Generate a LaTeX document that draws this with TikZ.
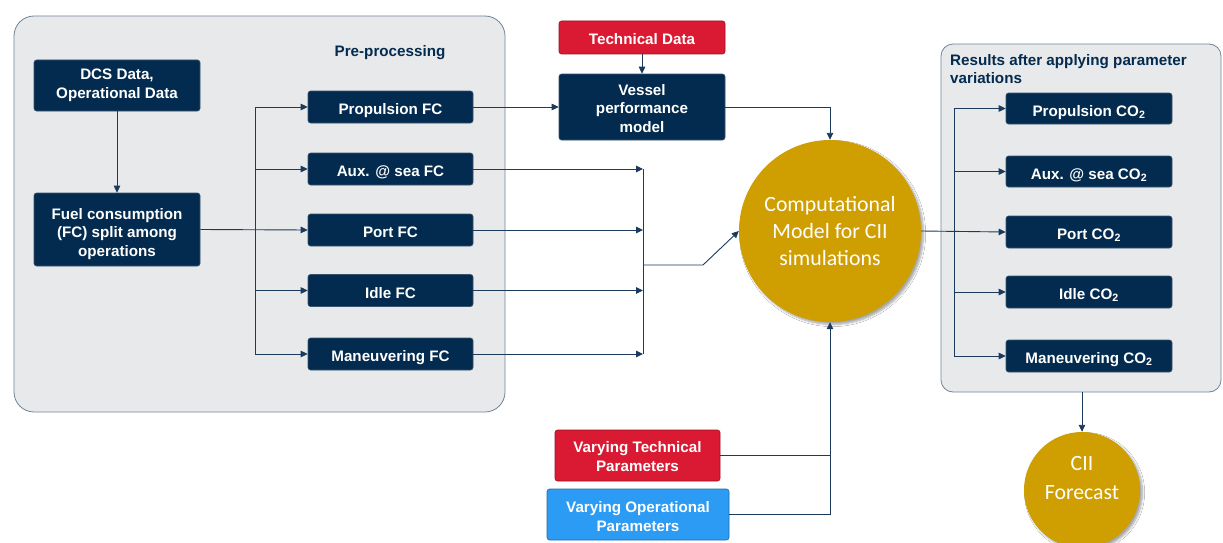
\documentclass[tikz,border=0pt]{standalone}
\usepackage{fontspec}
\setmainfont{Liberation Sans}
\newfontfamily\calib{Carlito}
\usetikzlibrary{arrows.meta,shadows.blur,calc}
\definecolor{navy}{HTML}{032B4F}
\definecolor{boxedge}{HTML}{3A5470}
\definecolor{linec}{HTML}{1B3A5C}
\definecolor{redbox}{HTML}{DA1A32}
\definecolor{bluebox}{HTML}{2B9BF4}
\definecolor{gold}{HTML}{CF9E00}
\definecolor{panel}{HTML}{E8E9EA}
\definecolor{paneledge}{HTML}{71839A}
\begin{document}
\begin{tikzpicture}[x=1pt,y=-1pt,
  box/.style={draw=boxedge,fill=navy,rounded corners=2.5pt,text=white,
    font=\bfseries\fontsize{15.2}{18.6}\selectfont,align=center,inner sep=2pt,line width=0.6pt},
  one/.style={text height=15pt,text depth=0pt},
  redb/.style={box,fill=redbox,draw=redbox!70!black},
  blueb/.style={box,fill=bluebox,draw=bluebox!70!black},
  panelbox/.style={draw=paneledge,fill=panel,rounded corners=20pt,line width=0.8pt},
  gcirc/.style={circle,fill=gold,inner sep=0pt,text=white,align=center,
    font=\calib\fontsize{21.8}{27}\selectfont,
    blur shadow={shadow blur steps=6,shadow xshift=2.5pt,shadow yshift=-2.5pt,shadow opacity=35}},
  ctext/.style={text=white,align=center,font=\calib\fontsize{21.8}{29}\selectfont,inner sep=0pt},
  title/.style={text=navy,font=\bfseries\fontsize{15.2}{18.5}\selectfont},
  ln/.style={draw=linec,line width=0.9pt},
  arr/.style={ln,-{Triangle[length=7pt,width=6.5pt]}}
]
\useasboundingbox (0,0) rectangle (1223,543);
\clip (0,0) rectangle (1223,543);
\fill[white] (0,0) rectangle (1223,543);

% panels
\node[panelbox,minimum width=491pt,minimum height=396pt] (pre) at (259.5,214) {};
\node[title] (pretitle) at (390,52.5) {Pre-processing};
\node[panelbox,rounded corners=12pt,minimum width=280pt,minimum height=348pt] (res) at (1081,218) {};
\node[title,anchor=north west,align=left,inner sep=0pt] (restitle) at (950,54) {Results after applying parameter\\variations};

% left boxes
\node[box,minimum width=166pt,minimum height=51pt] (dcs) at (117,85.5) {DCS Data,\\Operational Data};
\node[box,minimum width=166pt,minimum height=73pt,text height=53.7pt,text depth=0pt] (fuel) at (117,229.5) {Fuel consumption\\(FC) split among\\operations};

\node[box,one,minimum width=165pt,minimum height=32pt] (prop) at (390.5,107) {Propulsion FC};
\node[box,one,minimum width=165pt,minimum height=32pt] (aux) at (390.5,169) {Aux. @ sea FC};
\node[box,one,minimum width=165pt,minimum height=32pt] (port) at (390.5,230) {Port FC};
\node[box,one,minimum width=165pt,minimum height=32pt] (idle) at (390.5,290.5) {Idle FC};
\node[box,one,minimum width=165pt,minimum height=32pt] (man) at (390.5,354) {Maneuvering FC};

% middle
\node[redb,one,minimum width=166pt,minimum height=33pt] (tech) at (642,37.5) {Technical Data};
\node[box,minimum width=166pt,minimum height=66pt,text height=50.7pt,text depth=0pt] (vessel) at (642,107) {Vessel\\performance\\model};
\node[gcirc,minimum size=182pt] (comp) at (830,231) {Computational\\Model for CII\\simulations};
\node[redb,minimum width=165pt,minimum height=51pt,text height=31.1pt,text depth=0pt] (vtp) at (637.5,455.5) {Varying Technical\\Parameters};
\node[blueb,minimum width=182pt,minimum height=51pt,text height=33.1pt,text depth=0pt] (vop) at (638,514.5) {Varying Operational\\Parameters};

% right
\node[box,one,minimum width=166pt,minimum height=31pt] (pco) at (1089,108.5) {Propulsion CO\textsubscript{2}};
\node[box,one,minimum width=166pt,minimum height=31pt] (aco) at (1089,171.5) {Aux. @ sea CO\textsubscript{2}};
\node[box,one,minimum width=166pt,minimum height=32pt] (portco) at (1089,232) {Port CO\textsubscript{2}};
\node[box,one,minimum width=166pt,minimum height=32pt] (ico) at (1089,292) {Idle CO\textsubscript{2}};
\node[box,one,minimum width=166pt,minimum height=32pt] (mco) at (1089,356) {Maneuvering CO\textsubscript{2}};
\node[gcirc,minimum size=116pt] (cii) at (1082,490) {};
\node[ctext] (ciitext) at (1082,478) {CII\\Forecast};

% connectors left
\draw[arr] (dcs.south) -- (fuel.north);
\draw[arr] (fuel.east) -- (port.west);
\coordinate (bx) at (255,0);
\draw[ln] (bx |- prop.west) -- (bx |- man.west);
\foreach \n in {prop,aux,idle,man} \draw[arr] (bx |- \n.west) -- (\n.west);

% middle connectors
\draw[arr] (prop.east) -- (vessel.west);
\draw[arr] (tech.south) -- (vessel.north);
\draw[arr] (vessel.east) -| (comp.north);
\coordinate (mx) at (643,0);
\foreach \n in {aux,port,idle,man} \draw[arr] (\n.east) -- (\n.east -| mx);
\draw[ln] (mx |- aux.east) -- (mx |- man.east);
\coordinate (mj) at (643,265);
\coordinate (mk) at (703,265);
\draw[arr] (mj) -- (mk) -- (comp.west);
\draw[ln] (vtp.east) -- (vtp.east -| comp.south);
\draw[arr] (vop.east) -| (comp.south);

% right connectors
\draw[arr] (comp.east) -- (portco.west);
\coordinate (rx) at (954,0);
\draw[ln] (rx |- pco.west) -- (rx |- mco.west);
\foreach \n in {pco,aco,ico,mco} \draw[arr] (rx |- \n.west) -- (\n.west);
\draw[arr] (res.south -| cii.north) -- (cii.north);
\end{tikzpicture}
\end{document}
